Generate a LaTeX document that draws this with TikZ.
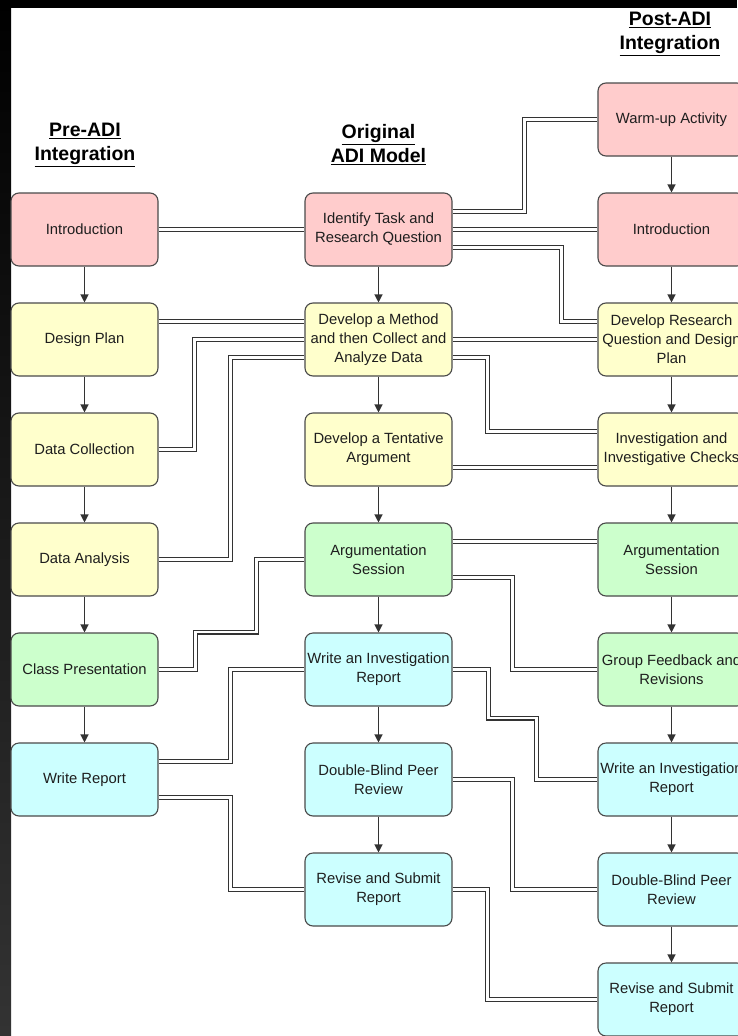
\documentclass[tikz,border=0pt]{standalone}
\usepackage{fontspec}
\setmainfont{Liberation Sans}
\usetikzlibrary{arrows.meta,calc}

\definecolor{pinkfill}{HTML}{FFCCCC}
\definecolor{yellowfill}{HTML}{FFFFCC}
\definecolor{greenfill}{HTML}{CCFFCC}
\definecolor{cyanfill}{HTML}{CCFFFF}
\definecolor{boxline}{HTML}{4A4A4A}
\definecolor{wire}{HTML}{333333}
\definecolor{txt}{HTML}{1E1E1E}

\begin{document}
\begin{tikzpicture}[x=1pt,y=-1pt,
  stage/.style={draw=boxline, line width=1.1pt, rounded corners=8pt,
    minimum width=147pt, minimum height=73pt, inner sep=0pt, align=center,
    text=txt, font=\fontsize{14.8}{19}\selectfont},
  pinkbox/.style={stage, fill=pinkfill},
  yellowbox/.style={stage, fill=yellowfill},
  greenbox/.style={stage, fill=greenfill},
  cyanbox/.style={stage, fill=cyanfill},
  flow/.style={draw=wire, line width=1.2pt, -{Triangle[width=8pt,length=8pt]}},
  link/.style={draw=wire, line width=1.2pt, double=white, double distance=2.6pt},
  heading/.style={align=center, text=black,
    font=\bfseries\fontsize{19.5}{24}\selectfont}
]
% page frame: dark border strips on top and left
\useasboundingbox (0,0) rectangle (737,1036);
\fill[white] (0,0) rectangle (737,1036);
\shade[top color=black, bottom color=black!80!white] (0,0) rectangle (11,1036);
\fill[black] (0,0) rectangle (737,8);

% column headings
\node[heading] (h1) at (85,145) {\underline{Pre-ADI}\\\underline{Integration}};
\node[heading] (h2) at (378.5,145) {\underline{Original}\\\underline{ADI Model}};
\node[heading] (h3) at (670,34) {\underline{Post-ADI}\\\underline{Integration}};

% Pre-ADI column
\node[pinkbox]   (a1) at (84.5,229.5) {Introduction};
\node[yellowbox] (a2) at (84.5,339.5) {Design Plan};
\node[yellowbox] (a3) at (84.5,449.5) {Data Collection};
\node[yellowbox] (a4) at (84.5,559.5) {Data Analysis};
\node[greenbox]  (a5) at (84.5,669.5) {Class Presentation};
\node[cyanbox]   (a6) at (84.5,779.5) {Write Report};

% Original ADI column
\node[pinkbox]   (b1) at (378.5,229.5) {Identify Task and\\Research Question};
\node[yellowbox] (b2) at (378.5,339.5) {Develop a Method\\and then Collect and\\Analyze Data};
\node[yellowbox] (b3) at (378.5,449.5) {Develop a Tentative\\Argument};
\node[greenbox]  (b4) at (378.5,559.5) {Argumentation\\Session};
\node[cyanbox]   (b5) at (378.5,669.5) {Write an Investigation\\Report};
\node[cyanbox]   (b6) at (378.5,779.5) {Double-Blind Peer\\Review};
\node[cyanbox]   (b7) at (378.5,889.5) {Revise and Submit\\Report};

% Post-ADI column
\node[pinkbox]   (c0) at (671.5,119.5) {Warm-up Activity};
\node[pinkbox]   (c1) at (671.5,229.5) {Introduction};
\node[yellowbox] (c2) at (671.5,339.5) {Develop Research\\Question and Design\\Plan};
\node[yellowbox] (c3) at (671.5,449.5) {Investigation and\\Investigative Checks};
\node[greenbox]  (c4) at (671.5,559.5) {Argumentation\\Session};
\node[greenbox]  (c5) at (671.5,669.5) {Group Feedback and\\Revisions};
\node[cyanbox]   (c6) at (671.5,779.5) {Write an Investigation\\Report};
\node[cyanbox]   (c7) at (671.5,889.5) {Double-Blind Peer\\Review};
\node[cyanbox]   (c8) at (671.5,999.5) {Revise and Submit\\Report};

% sequence arrows within each column
\foreach \p/\q in {a1/a2,a2/a3,a3/a4,a4/a5,a5/a6,
                   b1/b2,b2/b3,b3/b4,b4/b5,b5/b6,b6/b7,
                   c0/c1,c1/c2,c2/c3,c3/c4,c4/c5,c5/c6,c6/c7,c7/c8}
  \draw[flow] (\p) -- (\q);

% correspondences between the columns
\draw[link] (a1.east) -- (b1.west);
\draw[link] ($(b1.east)+(0,-18)$) -| ($(c0.west)+(-73,0)$) -- (c0.west);
\draw[link] (b1.east) -- (c1.west);
\draw[link] ($(b1.east)+(0,18)$) -| ($(c2.west)+(-36,-18)$) -- ($(c2.west)+(0,-18)$);
\draw[link] ($(a2.east)+(0,-18)$) -- ($(b2.west)+(0,-18)$);
\draw[link] (a3.east) -| ($(b2.west)+(-110,0)$) -- (b2.west);
\draw[link] (a4.east) -| ($(b2.west)+(-74,18)$) -- ($(b2.west)+(0,18)$);
\draw[link] (b2.east) -- (c2.west);
\draw[link] ($(b2.east)+(0,18)$) -| ($(c3.west)+(-110,-18)$) -- ($(c3.west)+(0,-18)$);
\draw[link] ($(b3.east)+(0,18)$) -- ($(c3.west)+(0,18)$);
\draw[link] ($(b4.east)+(0,-18)$) -- ($(c4.west)+(0,-18)$);
\draw[link] (a5.east) -| ($(a5.east)+(37,-37.5)$) -| ($(b4.west)+(-48,0)$) -- (b4.west);
\draw[link] ($(b4.east)+(0,18)$) -| ($(c5.west)+(-85,0)$) -- (c5.west);
\draw[link] ($(a6.east)+(0,-18)$) -| ($(b5.west)+(-74,0)$) -- (b5.west);
\draw[link] ($(a6.east)+(0,18)$) -| ($(b7.west)+(-74,0)$) -- (b7.west);
\draw[link] (b5.east) -| ($(b5.east)+(36,48.5)$) -| ($(c6.west)+(-61,0)$) -- (c6.west);
\draw[link] (b6.east) -| ($(c7.west)+(-85,0)$) -- (c7.west);
\draw[link] (b7.east) -| ($(c8.west)+(-110,0)$) -- (c8.west);
\end{tikzpicture}
\end{document}
